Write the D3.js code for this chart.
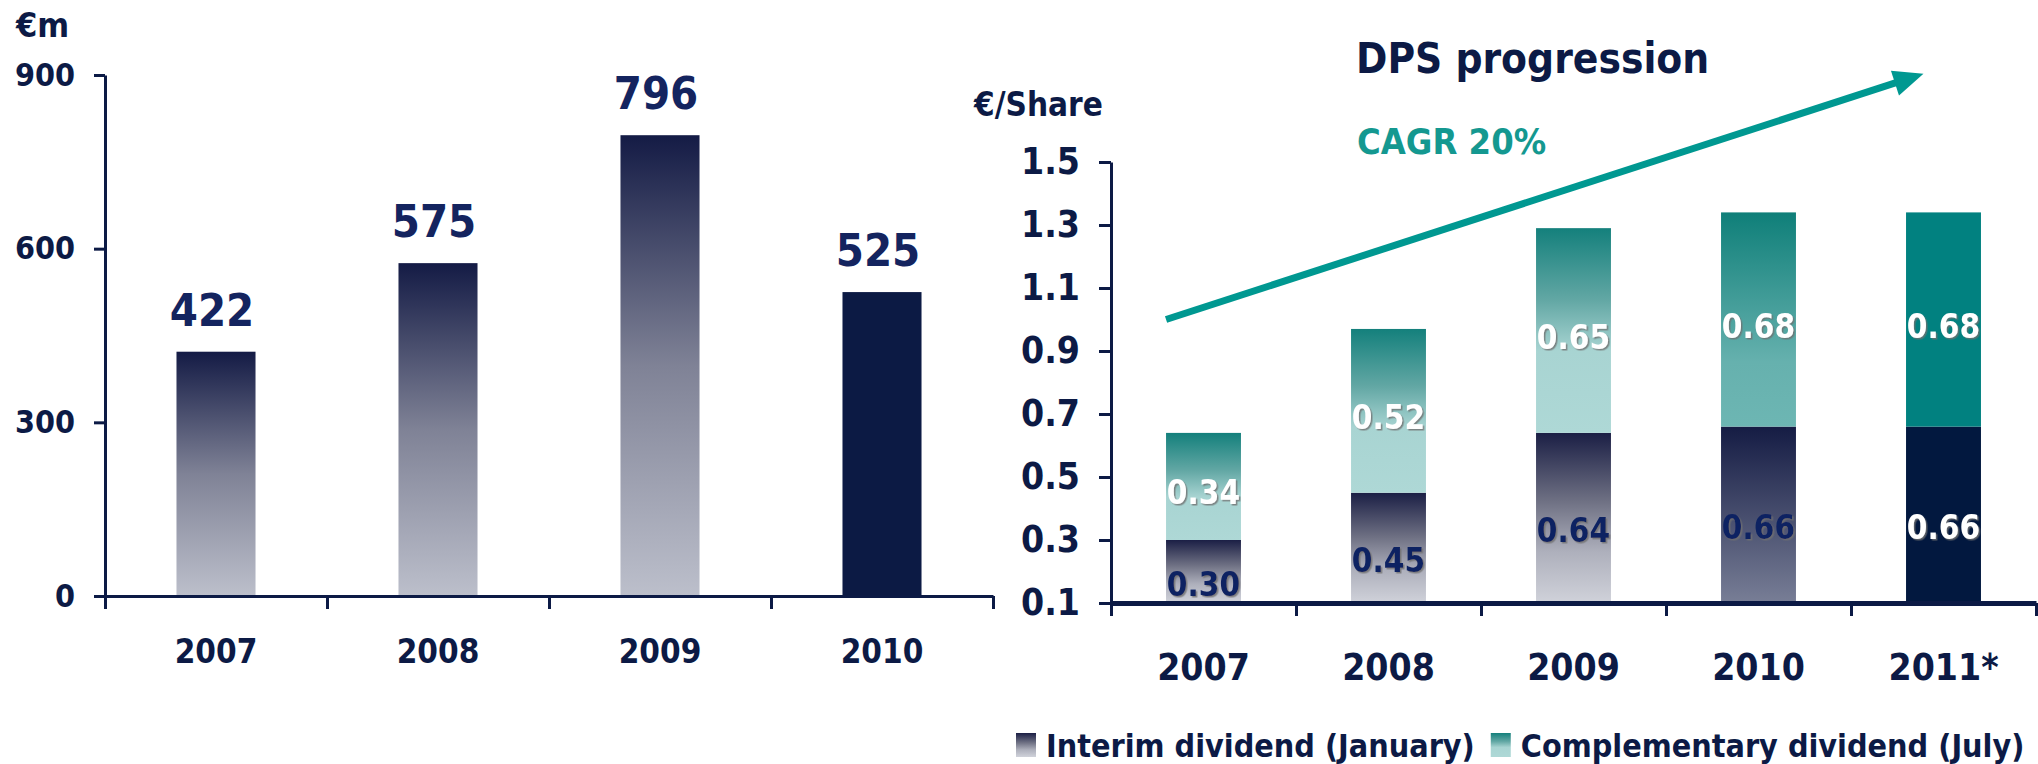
<!DOCTYPE html>
<html>
<head>
<meta charset="utf-8">
<script src="https://cdn.jsdelivr.net/npm/d3@7"></script>
<style>
  body { margin: 0; background: #fff; }
  svg text { font-family: "DejaVu Sans Condensed", "DejaVu Sans", sans-serif; font-weight: bold; font-stretch: condensed; }
</style>
</head>
<body>
<svg id="chart" width="2038" height="764"></svg>
<script>
// left chart: net profit, EUR m
var years = ["2007", "2008", "2009", "2010"];
var profit = [422, 575, 796, 525];
var profitTicks = [0, 300, 600, 900];

// right chart: dividend per share
var dpsYears = ["2007", "2008", "2009", "2010", "2011*"];
var interim = [0.30, 0.45, 0.64, 0.66, 0.66];
var complementary = [0.34, 0.52, 0.65, 0.68, 0.68];
var dpsTicks = [0.1, 0.3, 0.5, 0.7, 0.9, 1.1, 1.3, 1.5];
var legendLabels = ["Interim dividend (January)", "Complementary dividend (July)"];

var navy = "#0c1a45";
var teal = "#009891";

var svg = d3.select("#chart");
var defs = svg.append("defs");

function gradient(id, stops) {
  var g = defs.append("linearGradient").attr("id", id)
    .attr("x1", 0).attr("y1", 0).attr("x2", 0).attr("y2", 1);
  stops.forEach(function(s) {
    g.append("stop").attr("offset", s[0]).attr("stop-color", s[1]);
  });
}
gradient("gLeft", [[0, "#141b45"], [0.5, "#7f8296"], [1, "#bcbfcb"]]);
gradient("gInt", [[0, "#1b1f45"], [0.4, "#6e7083"], [0.7, "#aeb0bc"], [1, "#d0d2da"]]);
gradient("gIntMid", [[0, "#151c44"], [1, "#787e96"]]);
gradient("gComp", [[0, "#14807c"], [0.35, "#62a7a4"], [0.6, "#a8d4d2"], [1, "#aed8d6"]]);
gradient("gCompMid", [[0, "#0f7f79"], [0.7, "#66b1ae"], [1, "#6db6b3"]]);

var shadow = defs.append("filter").attr("id", "shadow")
  .attr("x", "-20%").attr("y", "-20%").attr("width", "140%").attr("height", "140%");
shadow.append("feDropShadow").attr("dx", 1.5).attr("dy", 1.5).attr("stdDeviation", 0.6)
  .attr("flood-color", "#6f6f6f").attr("flood-opacity", 0.8);

// ---------- left chart ----------
var xL = d3.scaleBand().domain(years).range([105, 993]).paddingInner(0.644).paddingOuter(0.322);
var yL = d3.scaleLinear().domain([0, 900]).range([596, 75]);

var left = svg.append("g");

left.selectAll("rect.bar")
  .data(profit)
  .enter()
  .append("rect")
  .attr("class", "bar")
  .attr("x", function(d, i) { return xL(years[i]); })
  .attr("y", function(d) { return yL(d); })
  .attr("width", xL.bandwidth())
  .attr("height", function(d) { return yL(0) - yL(d); })
  .attr("fill", function(d, i) { return i < 3 ? "url(#gLeft)" : "#0c1a44"; });

left.selectAll("text.val")
  .data(profit)
  .enter()
  .append("text")
  .attr("class", "val")
  .attr("x", function(d, i) { return xL(years[i]) + xL.bandwidth() / 2 - 4; })
  .attr("y", function(d) { return yL(d) - 26; })
  .attr("text-anchor", "middle")
  .attr("font-size", 45)
  .attr("fill", "#14245f")
  .text(function(d) { return d; });

var yAxisL = left.append("g")
  .attr("transform", "translate(105,0)")
  .call(d3.axisLeft(yL).tickValues(profitTicks).tickSize(11).tickPadding(19).tickSizeOuter(0));
yAxisL.selectAll("text").attr("font-size", 32).attr("fill", navy);

var bL = d3.scaleLinear().domain([0, years.length]).range(xL.range());
var xAxisL = left.append("g")
  .attr("transform", "translate(0,596)")
  .call(d3.axisBottom(bL).tickValues(d3.range(years.length + 1)).tickSize(13).tickSizeOuter(0).tickFormat(""));

var xLabL = left.append("g")
  .attr("transform", "translate(0,596)")
  .call(d3.axisBottom(xL).tickSize(0).tickPadding(44));
xLabL.select(".domain").remove();
xLabL.selectAll("text").attr("font-size", 33).attr("fill", navy);

left.selectAll(".domain, .tick line").attr("stroke", navy).attr("stroke-width", 3);

left.append("text").attr("x", 16).attr("y", 37).attr("font-size", 34).attr("fill", navy).text("€m");

// ---------- right chart ----------
var xR = d3.scaleBand().domain(dpsYears).range([1111, 2036]).paddingInner(0.595).paddingOuter(0.2975);
var yR = d3.scaleLinear().domain([0.1, 1.5]).range([603, 162]);

var right = svg.append("g");

var stacked = dpsYears.map(function(y, i) {
  return { year: y, i: i, a: interim[i], b: complementary[i], top: interim[i] + complementary[i] };
});

function intFill(i) { return i < 3 ? "url(#gInt)" : (i === 3 ? "url(#gIntMid)" : "#02183f"); }
function compFill(i) { return i < 3 ? "url(#gComp)" : (i === 3 ? "url(#gCompMid)" : "#018180"); }

right.selectAll("rect.int")
  .data(stacked)
  .enter()
  .append("rect")
  .attr("class", "int")
  .attr("x", function(d) { return xR(d.year); })
  .attr("y", function(d) { return yR(d.a); })
  .attr("width", xR.bandwidth())
  .attr("height", function(d) { return yR(0.1) - yR(d.a); })
  .attr("fill", function(d) { return intFill(d.i); });

right.selectAll("rect.comp")
  .data(stacked)
  .enter()
  .append("rect")
  .attr("class", "comp")
  .attr("x", function(d) { return xR(d.year); })
  .attr("y", function(d) { return yR(d.top); })
  .attr("width", xR.bandwidth())
  .attr("height", function(d) { return yR(d.a) - yR(d.top); })
  .attr("fill", function(d) { return compFill(d.i); });

right.selectAll("text.intLab")
  .data(stacked)
  .enter()
  .append("text")
  .attr("class", "intLab")
  .attr("x", function(d) { return xR(d.year) + xR.bandwidth() / 2; })
  .attr("y", function(d) { return (yR(0.1) + yR(d.a)) / 2 + 24; })
  .attr("text-anchor", "middle")
  .attr("font-size", 33)
  .attr("fill", function(d) { return d.i < 4 ? "#0e2262" : "#fff"; })
  .attr("filter", "url(#shadow)")
  .text(function(d) { return d.a.toFixed(2); });

right.selectAll("text.compLab")
  .data(stacked)
  .enter()
  .append("text")
  .attr("class", "compLab")
  .attr("x", function(d) { return xR(d.year) + xR.bandwidth() / 2; })
  .attr("y", function(d) { return (yR(d.a) + yR(d.top)) / 2 + 18; })
  .attr("text-anchor", "middle")
  .attr("font-size", 33)
  .attr("fill", "#fff")
  .attr("filter", "url(#shadow)")
  .text(function(d) { return d.b.toFixed(2); });

var yAxisR = right.append("g")
  .attr("transform", "translate(1111,0)")
  .call(d3.axisLeft(yR).tickValues(dpsTicks).tickSize(12).tickPadding(19).tickSizeOuter(0)
    .tickFormat(d3.format(".1f")));
yAxisR.selectAll("text").attr("font-size", 37).attr("fill", navy);
yAxisR.selectAll(".domain, .tick line").attr("stroke", navy).attr("stroke-width", 3);

var bR = d3.scaleLinear().domain([0, dpsYears.length]).range(xR.range());
var xAxisR = right.append("g")
  .attr("transform", "translate(0,603)")
  .call(d3.axisBottom(bR).tickValues(d3.range(dpsYears.length + 1)).tickSize(13).tickSizeOuter(0).tickFormat(""));
xAxisR.select(".domain").attr("stroke", navy).attr("stroke-width", 5);
xAxisR.selectAll(".tick line").attr("stroke", navy).attr("stroke-width", 3);

var xLabR = right.append("g")
  .attr("transform", "translate(0,603)")
  .call(d3.axisBottom(xR).tickSize(0).tickPadding(51));
xLabR.select(".domain").remove();
xLabR.selectAll("text").attr("font-size", 37).attr("fill", navy);

// growth arrow
var ax1 = xR("2007"), ay1 = yR(1.0);
var ax2 = xR("2011*") + xR.bandwidth() / 2 - 20, ay2 = yR(1.78);
var ang = Math.atan2(ay2 - ay1, ax2 - ax1);
var headLen = 30, headW = 13;
var bx = ax2 - headLen * Math.cos(ang), by = ay2 - headLen * Math.sin(ang);
right.append("line")
  .attr("x1", ax1).attr("y1", ay1).attr("x2", bx + 2 * Math.cos(ang)).attr("y2", by + 2 * Math.sin(ang))
  .attr("stroke", teal).attr("stroke-width", 7);
right.append("path")
  .attr("d", "M" + ax2 + "," + ay2 +
    "L" + (bx + headW * Math.sin(ang)) + "," + (by - headW * Math.cos(ang)) +
    "L" + (bx - headW * Math.sin(ang)) + "," + (by + headW * Math.cos(ang)) + "Z")
  .attr("fill", teal);

right.append("text").attr("x", 1356).attr("y", 73).attr("font-size", 42).attr("fill", navy).text("DPS progression");
right.append("text").attr("x", 974).attr("y", 116).attr("font-size", 33).attr("fill", navy).text("€/Share");
right.append("text").attr("x", 1357).attr("y", 154).attr("font-size", 36).attr("fill", "#149890").text("CAGR 20%");

// legend
var legend = right.append("g").attr("transform", "translate(1016,757)");
var lx = 0;
legendLabels.forEach(function(label, i) {
  legend.append("rect").attr("x", lx).attr("y", -24).attr("width", 20).attr("height", 24)
    .attr("fill", i === 0 ? "url(#gInt)" : "url(#gComp)");
  var t = legend.append("text").attr("x", lx + 30).attr("y", 0)
    .attr("font-size", 32).attr("fill", navy).text(label);
  lx += 30 + t.node().getComputedTextLength() + 16;
});
</script>
</body>
</html>
